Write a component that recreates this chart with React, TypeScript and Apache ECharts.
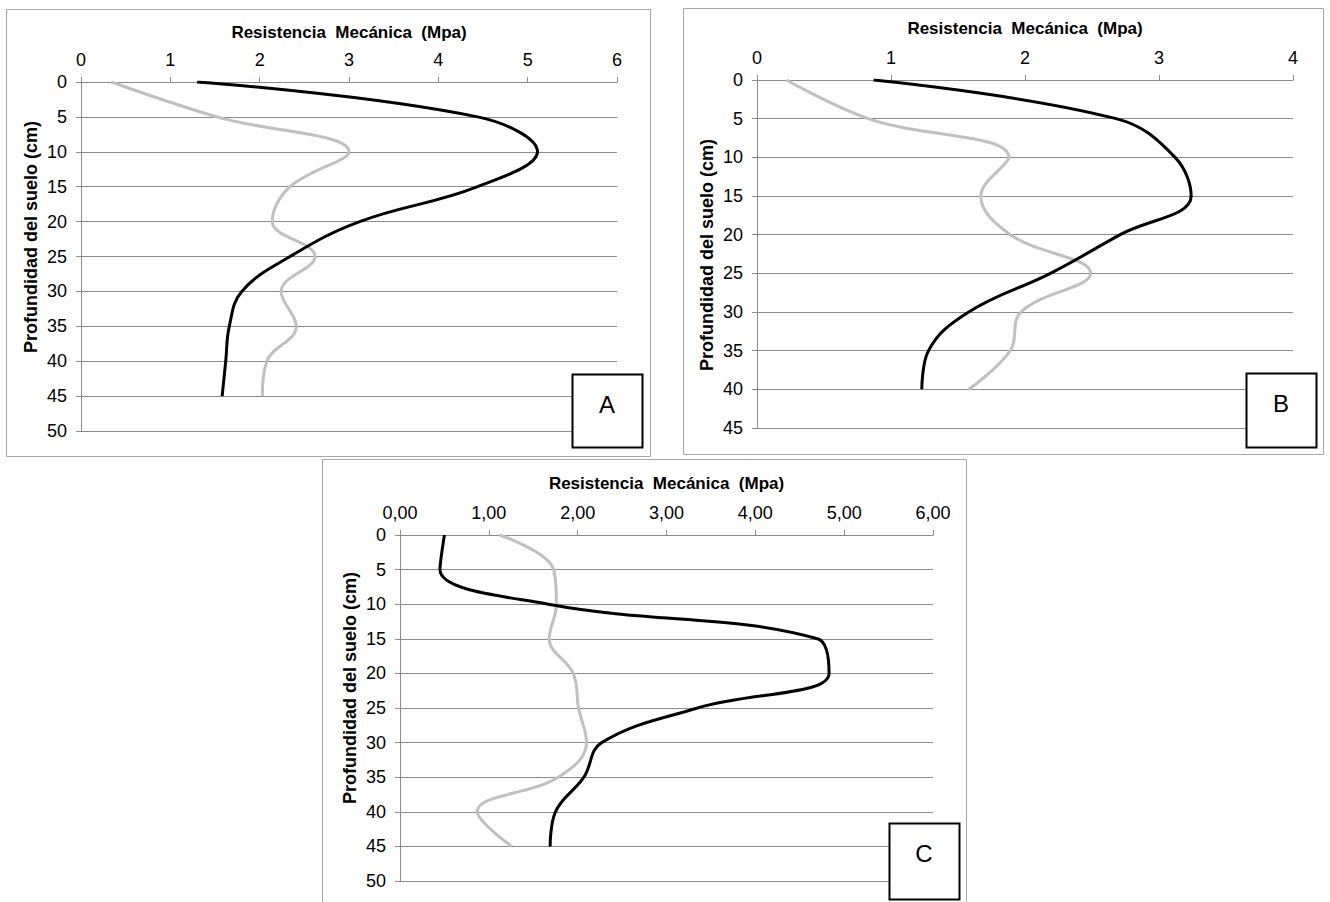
import React, { useEffect, useRef } from "react";
import * as echarts from "echarts";

// Depths (cm)
const depthA = [0, 5, 10, 15, 20, 25, 30, 35, 40, 45];
const blackA = [1.3, 4.44, 5.11, 4.44, 3.12, 2.34, 1.8, 1.66, 1.62, 1.58];
const grayA = [0.34, 1.52, 3.0, 2.34, 2.14, 2.62, 2.24, 2.41, 2.08, 2.03];

const depthB = [0, 5, 10, 15, 20, 25, 30, 35, 40];
const blackB = [0.87, 2.68, 3.12, 3.24, 2.71, 2.19, 1.58, 1.28, 1.23];
const grayB = [0.22, 0.83, 1.88, 1.67, 1.89, 2.49, 1.97, 1.89, 1.58];

const depthC = [0, 5, 10, 15, 20, 25, 30, 35, 40, 45];
const blackC = [0.5, 0.45, 1.67, 4.7, 4.83, 3.35, 2.27, 2.07, 1.75, 1.69];
const grayC = [1.12, 1.73, 1.76, 1.68, 1.95, 2.01, 2.1, 1.78, 0.87, 1.26];

const xTitle = "Resistencia  Mecánica  (Mpa)";
const yTitle = "Profundidad del suelo (cm)";
const panelLabels = ["A", "B", "C"];

const FONT = "'Liberation Sans', Arial, sans-serif";
const GRID_COLOR = "#8c8c8c";

export default function App() {
  const ref = useRef<HTMLDivElement>(null);

  useEffect(() => {
    if (!ref.current) return;
    const chart = echarts.init(ref.current, undefined, { renderer: "svg" });

    const grids = [
      { left: 81, top: 82, width: 536, height: 349 },
      { left: 757, top: 80, width: 536, height: 348 },
      { left: 400, top: 535, width: 533, height: 346 },
    ];
    const xMax = [6, 4, 6];
    const yMax = [50, 45, 50];
    const titleGap = [41, 43, 43];

    const xAxes = grids.map((g, i) => ({
      type: "value",
      gridIndex: i,
      position: "top",
      min: 0,
      max: xMax[i],
      interval: 1,
      name: xTitle,
      nameLocation: "middle",
      nameGap: titleGap[i],
      nameTextStyle: { fontFamily: FONT, fontWeight: "bold", fontSize: 17, color: "#000" },
      axisLine: { show: true, lineStyle: { color: GRID_COLOR, width: 1 } },
      axisTick: { show: true, inside: false, length: 5, lineStyle: { color: GRID_COLOR } },
      splitLine: { show: false },
      axisLabel: {
        fontFamily: FONT,
        fontSize: 18,
        color: "#000",
        margin: 13,
        formatter: (v: number) => (i === 2 ? v.toFixed(2).replace(".", ",") : String(v)),
      },
    }));

    const yAxes = grids.map((g, i) => ({
      type: "value",
      gridIndex: i,
      inverse: true,
      min: 0,
      max: yMax[i],
      interval: 5,
      axisLine: { show: true, lineStyle: { color: GRID_COLOR, width: 1 } },
      axisTick: { show: true, length: 5, lineStyle: { color: GRID_COLOR } },
      splitLine: { show: true, lineStyle: { color: GRID_COLOR, width: 1 } },
      axisLabel: { fontFamily: FONT, fontSize: 18, color: "#000", margin: 14 },
    }));

    const mk = (xs: number[], ds: number[]) => xs.map((v, k) => [v, ds[k]]);
    const sets = [
      { b: blackA, g: grayA, d: depthA },
      { b: blackB, g: grayB, d: depthB },
      { b: blackC, g: grayC, d: depthC },
    ];
    const series: any[] = [];
    sets.forEach((s, i) => {
      series.push({
        type: "line",
        xAxisIndex: i,
        yAxisIndex: i,
        data: mk(s.g, s.d),
        smooth: 0.4,
        showSymbol: false,
        lineStyle: { color: "#c0c0c0", width: 3 },
        z: 2,
      });
      series.push({
        type: "line",
        xAxisIndex: i,
        yAxisIndex: i,
        data: mk(s.b, s.d),
        smooth: 0.4,
        showSymbol: false,
        lineStyle: { color: "#000", width: 3 },
        z: 3,
      });
    });

    const borders = [
      { x: 6, y: 9, w: 644, h: 447 },
      { x: 683, y: 8, w: 640, h: 446 },
      { x: 322, y: 459, w: 644, h: 450 },
    ];
    const boxes = [
      { x: 572, y: 374, w: 70, h: 73 },
      { x: 1246, y: 373, w: 70, h: 74 },
      { x: 889, y: 823, w: 70, h: 76 },
    ];
    const yTitlePos = [
      { x: 31, y: 237 },
      { x: 707, y: 255 },
      { x: 350, y: 688 },
    ];

    const graphic: any[] = [];
    borders.forEach((b) => {
      graphic.push({
        type: "rect",
        shape: { x: b.x + 0.5, y: b.y + 0.5, width: b.w, height: b.h },
        style: { fill: "none", stroke: "#a6a6a6", lineWidth: 1 },
        z: 0,
      });
    });
    yTitlePos.forEach((p) => {
      graphic.push({
        type: "text",
        x: p.x,
        y: p.y,
        rotation: Math.PI / 2,
        style: {
          text: yTitle,
          fontFamily: FONT,
          fontWeight: "bold",
          fontSize: 18,
          fill: "#000",
          align: "center",
          verticalAlign: "middle",
        },
        z: 5,
      });
    });
    boxes.forEach((b, i) => {
      graphic.push({
        type: "rect",
        shape: { x: b.x + 0.5, y: b.y + 0.5, width: b.w, height: b.h },
        style: { fill: "#fff", stroke: "#000", lineWidth: 2 },
        z: 10,
      });
      graphic.push({
        type: "text",
        x: b.x + b.w / 2,
        y: b.y + 30,
        style: {
          text: panelLabels[i],
          fontFamily: FONT,
          fontSize: 24,
          fill: "#000",
          align: "center",
          verticalAlign: "middle",
        },
        z: 11,
      });
    });

    chart.setOption({
      animation: false,
      backgroundColor: "#fff",
      grid: grids.map((g) => ({ ...g, containLabel: false })),
      xAxis: xAxes,
      yAxis: yAxes,
      series,
      graphic,
    });

    return () => chart.dispose();
  }, []);

  return (
    <div
      ref={ref}
      style={{ position: "absolute", left: 0, top: 0, width: 1330, height: 902 }}
    />
  );
}
